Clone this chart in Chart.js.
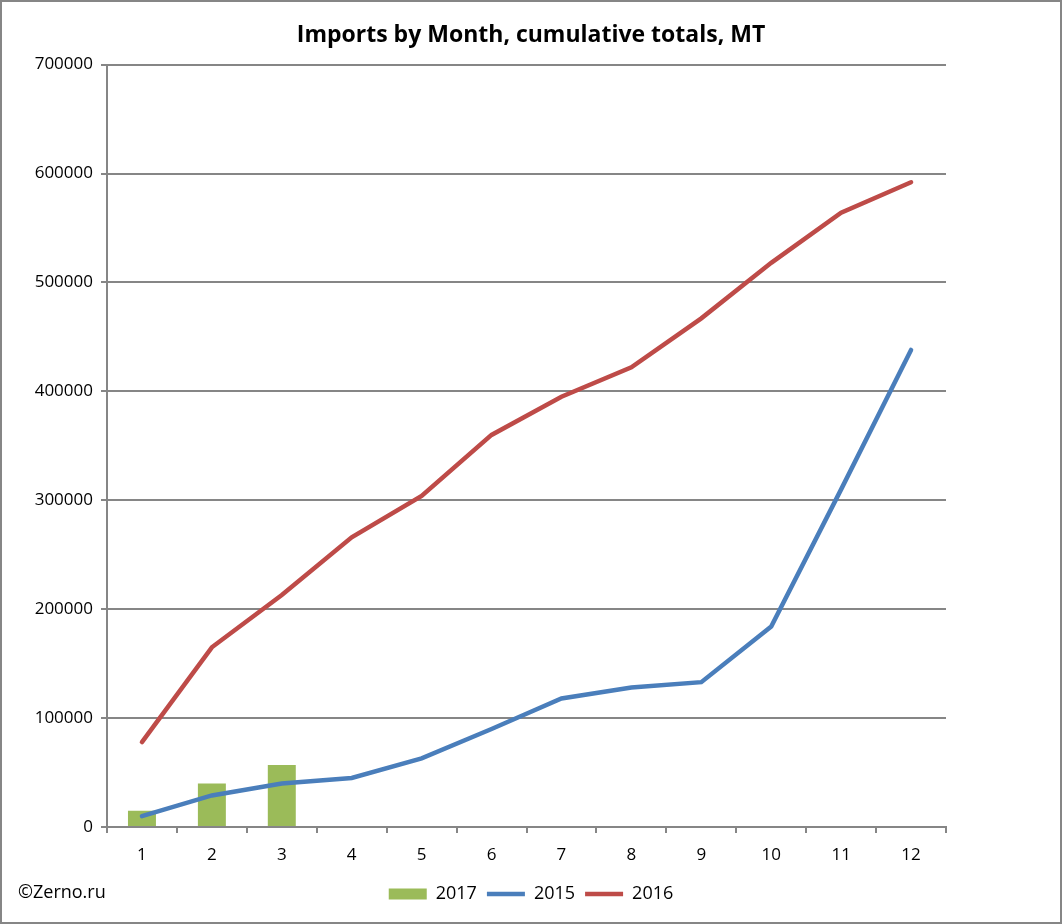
<!DOCTYPE html>
<html>
<head>
<meta charset="utf-8">
<title>Imports by Month</title>
<script src="https://cdn.jsdelivr.net/npm/chart.js@4.4.1/dist/chart.umd.min.js"></script>
<style>
  html, body { margin: 0; padding: 0; background: #fff; }
  #wrap { width: 1062px; height: 924px; }
</style>
</head>
<body>
<div id="wrap"><canvas id="chart" width="1062" height="924"></canvas></div>
<script>
const months = ["1", "2", "3", "4", "5", "6", "7", "8", "9", "10", "11", "12"];
const imports2017 = [15000, 40000, 57000];
const imports2015 = [10000, 29000, 40000, 45000, 63000, 90000, 118000, 128000, 133000, 184000, 310000, 438000];
const imports2016 = [78000, 165000, 213000, 266000, 304000, 360000, 395000, 422000, 467000, 518000, 564000, 592000];

const gridColor = "#868686";
const fontName = "'Open Sans', 'Liberation Sans', sans-serif";

// fond blanc + cadre + copyright
const decorPlugin = {
  id: "decor",
  beforeDraw(chart) {
    const ctx = chart.ctx;
    ctx.save();
    ctx.fillStyle = "#fff";
    ctx.fillRect(0, 0, chart.width, chart.height);
    ctx.restore();
  },
  afterDraw(chart) {
    const ctx = chart.ctx;
    ctx.save();
    ctx.strokeStyle = gridColor;
    ctx.lineWidth = 2;
    ctx.strokeRect(1, 1, chart.width - 2, chart.height - 2);
    ctx.fillStyle = "#000";
    ctx.font = "18px " + fontName;
    ctx.textBaseline = "middle";
    ctx.fillText("©Zerno.ru", 18, 893);
    ctx.restore();
  }
};

Chart.defaults.font.family = fontName;
Chart.defaults.color = "#000";

new Chart(document.getElementById("chart"), {
  type: "bar",
  data: {
    labels: months,
    datasets: [
      {
        label: "2017",
        data: imports2017,
        backgroundColor: "#9BBB59",
        borderWidth: 0,
        barPercentage: 0.4,
        categoryPercentage: 1,
        pointStyle: "rect",
        order: 3
      },
      {
        type: "line",
        label: "2015",
        data: imports2015,
        borderColor: "#4A7EBB",
        backgroundColor: "#4A7EBB",
        borderWidth: 4.5,
        borderCapStyle: "round",
        pointRadius: 0,
        pointStyle: "line",
        tension: 0,
        order: 2
      },
      {
        type: "line",
        label: "2016",
        data: imports2016,
        borderColor: "#BE4B48",
        backgroundColor: "#BE4B48",
        borderWidth: 4.5,
        borderCapStyle: "round",
        pointRadius: 0,
        pointStyle: "line",
        tension: 0,
        order: 1
      }
    ]
  },
  options: {
    responsive: false,
    animation: false,
    devicePixelRatio: 1,
    layout: { padding: { left: 0, right: 0, top: 0, bottom: 11 } },
    plugins: {
      title: {
        display: true,
        text: "Imports by Month, cumulative totals, MT",
        font: { size: 23, weight: "bold" },
        color: "#000",
        padding: { top: 22, bottom: 15 }
      },
      legend: {
        position: "bottom",
        labels: {
          usePointStyle: true,
          pointStyleWidth: 38,
          boxHeight: 11,
          font: { size: 18 },
          padding: 10,
          sort: (a, b) => a.datasetIndex - b.datasetIndex
        }
      },
      tooltip: { enabled: false }
    },
    scales: {
      x: {
        offset: true,
        grid: {
          offset: true,
          display: true,
          drawOnChartArea: false,
          drawTicks: true,
          tickLength: 6,
          color: gridColor,
          lineWidth: 2
        },
        border: { display: true, color: gridColor, width: 2 },
        ticks: { font: { size: 17 }, padding: 12 },
        afterFit(scale) { scale.height = 48; }
      },
      y: {
        min: 0,
        max: 700000,
        ticks: {
          stepSize: 100000,
          font: { size: 17 },
          padding: 8,
          callback: v => String(v)
        },
        grid: {
          color: gridColor,
          lineWidth: 2,
          tickLength: 6
        },
        border: { display: true, color: gridColor, width: 2 },
        afterFit(scale) { scale.width = 107; }
      },
      // marge droite vide
      yRight: {
        position: "right",
        display: true,
        grid: { display: false },
        border: { display: false },
        ticks: { display: false },
        afterFit(scale) { scale.width = 116; }
      }
    }
  },
  plugins: [decorPlugin]
});
</script>
</body>
</html>
